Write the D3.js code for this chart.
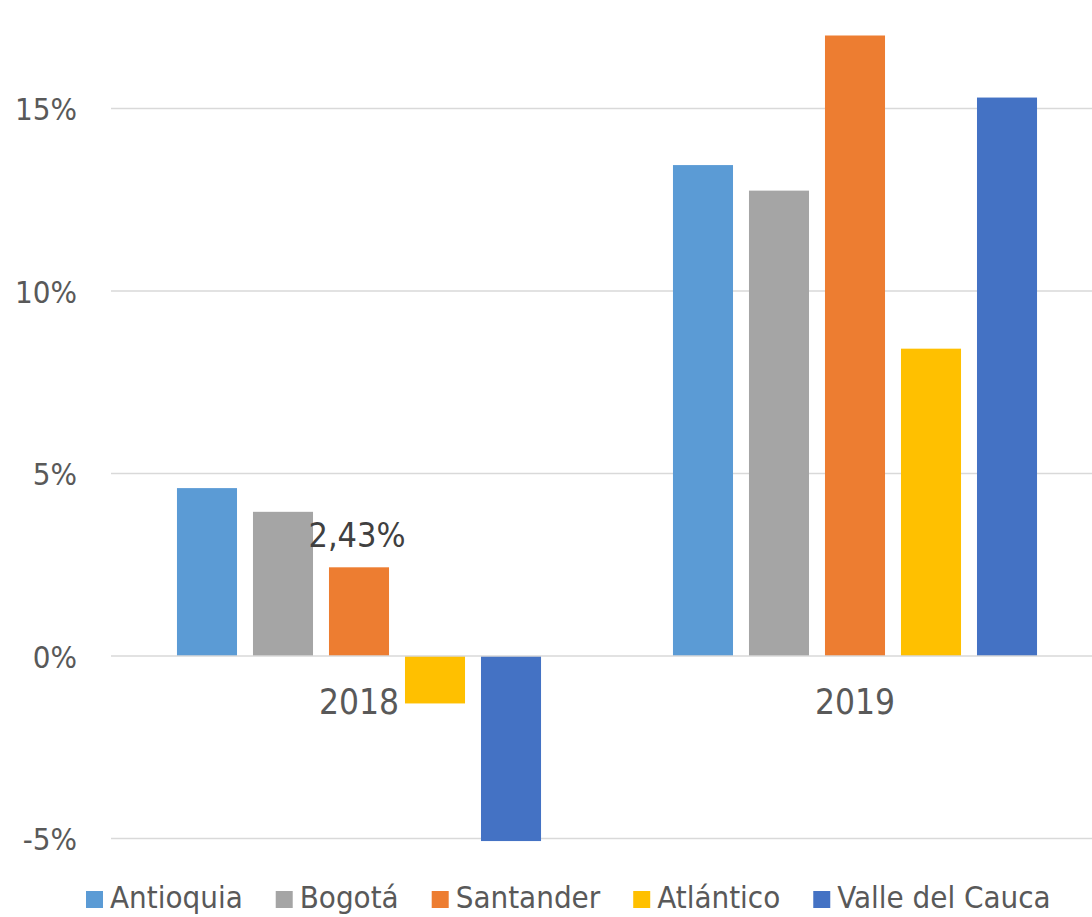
<!DOCTYPE html>
<html>
<head>
<meta charset="utf-8">
<script src="https://cdn.jsdelivr.net/npm/d3@7"></script>
<style>
    body { margin: 0; background: #ffffff; }
    svg text { font-family: "DejaVu Sans Condensed", "DejaVu Sans", sans-serif; }
</style>
</head>
<body>
<div id="chart"></div>
<script>

// Data -----------------------------------------------------------------------

const YEARS = ["2018", "2019"];
const SERIES = ["Antioquia", "Bogotá", "Santander", "Atlántico", "Valle del Cauca"];
const COLOURS = ["#5b9bd5", "#a5a5a5", "#ed7d31", "#ffc000", "#4472c4"];
const VALUES_2018 = [0.0460, 0.0395, 0.0243, -0.0130, -0.0507];
const VALUES_2019 = [0.1345, 0.1275, 0.1700, 0.0842, 0.1530];
const Y_TICKS = [-0.05, 0, 0.05, 0.10, 0.15];

// Chart ----------------------------------------------------------------------

const width = 1092;
const height = 917;

const svg = d3.select("#chart")
    .append("svg")
    .attr("width", width)
    .attr("height", height);

const rows = [VALUES_2018, VALUES_2019];

const x0 = d3.scaleBand()
    .domain(YEARS)
    .range([111, 1103]);

const bw = x0.bandwidth();
const x1 = d3.scaleBand()
    .domain(SERIES)
    .range([bw * 0.133, bw * 0.867])
    .paddingInner(0.21);

const y = d3.scaleLinear()
    .domain([-0.06, 0.18])
    .range([875, -1]);

const colour = d3.scaleOrdinal()
    .domain(SERIES)
    .range(COLOURS);

// hyphen instead of unicode minus, as in the original
const pctFmt = d => d3.format(".0%")(d).replace("−", "-");

// Gridlines
svg.append("g")
    .selectAll("line")
    .data(Y_TICKS.filter(t => t !== 0))
    .enter()
    .append("line")
    .attr("x1", 111)
    .attr("x2", width)
    .attr("y1", d => y(d))
    .attr("y2", d => y(d))
    .attr("stroke", "#d9d9d9")
    .attr("stroke-width", 1.5);

// Y axis labels
const yaxis = d3.axisLeft(y)
    .tickValues(Y_TICKS)
    .tickFormat(pctFmt)
    .tickSize(0)
    .tickPadding(0);

svg.append("g")
    .attr("transform", "translate(77,0)")
    .call(yaxis)
    .call(g => g.select(".domain").remove())
    .call(g => g.selectAll("text")
        .attr("fill", "#595959")
        .attr("dy", "0.37em")
        .style("font-size", "31px"));

// Bars
const groups = svg.append("g")
    .selectAll("g")
    .data(YEARS)
    .enter()
    .append("g")
    .attr("transform", d => `translate(${x0(d)},0)`);

groups.selectAll("rect")
    .data((d, i) => SERIES.map((s, j) => ({series: s, value: rows[i][j]})))
    .enter()
    .append("rect")
    .attr("x", d => x1(d.series))
    .attr("width", x1.bandwidth())
    .attr("y", d => y(Math.max(0, d.value)))
    .attr("height", d => Math.abs(y(d.value) - y(0)))
    .attr("fill", d => colour(d.series));

// Zero line
svg.append("line")
    .attr("x1", 111)
    .attr("x2", width)
    .attr("y1", y(0))
    .attr("y2", y(0))
    .attr("stroke", "#d9d9d9")
    .attr("stroke-width", 1.5);

// X axis labels
svg.append("g")
    .selectAll("text")
    .data(YEARS)
    .enter()
    .append("text")
    .attr("x", d => x0(d) + bw / 2)
    .attr("y", y(0) + 58)
    .attr("text-anchor", "middle")
    .attr("fill", "#595959")
    .style("font-size", "35px")
    .text(d => d);

// Data label on Santander 2018
svg.append("text")
    .attr("x", x0("2018") + x1("Santander") + x1.bandwidth() / 2 - 2)
    .attr("y", y(VALUES_2018[2]) - 20)
    .attr("text-anchor", "middle")
    .attr("fill", "#404040")
    .style("font-size", "34px")
    .text(d3.format(".2f")(VALUES_2018[2] * 100).replace(".", ",") + "%");

// Legend
const legend = svg.append("g");
let lx = 86;
SERIES.forEach((s, i) => {
    legend.append("rect")
        .attr("x", lx)
        .attr("y", 891)
        .attr("width", 17)
        .attr("height", 17)
        .attr("fill", COLOURS[i]);
    const t = legend.append("text")
        .attr("x", lx + 24)
        .attr("y", 908)
        .attr("fill", "#595959")
        .style("font-size", "31px")
        .text(s);
    lx += 24 + t.node().getComputedTextLength() + 33;
});

</script>
</body>
</html>
